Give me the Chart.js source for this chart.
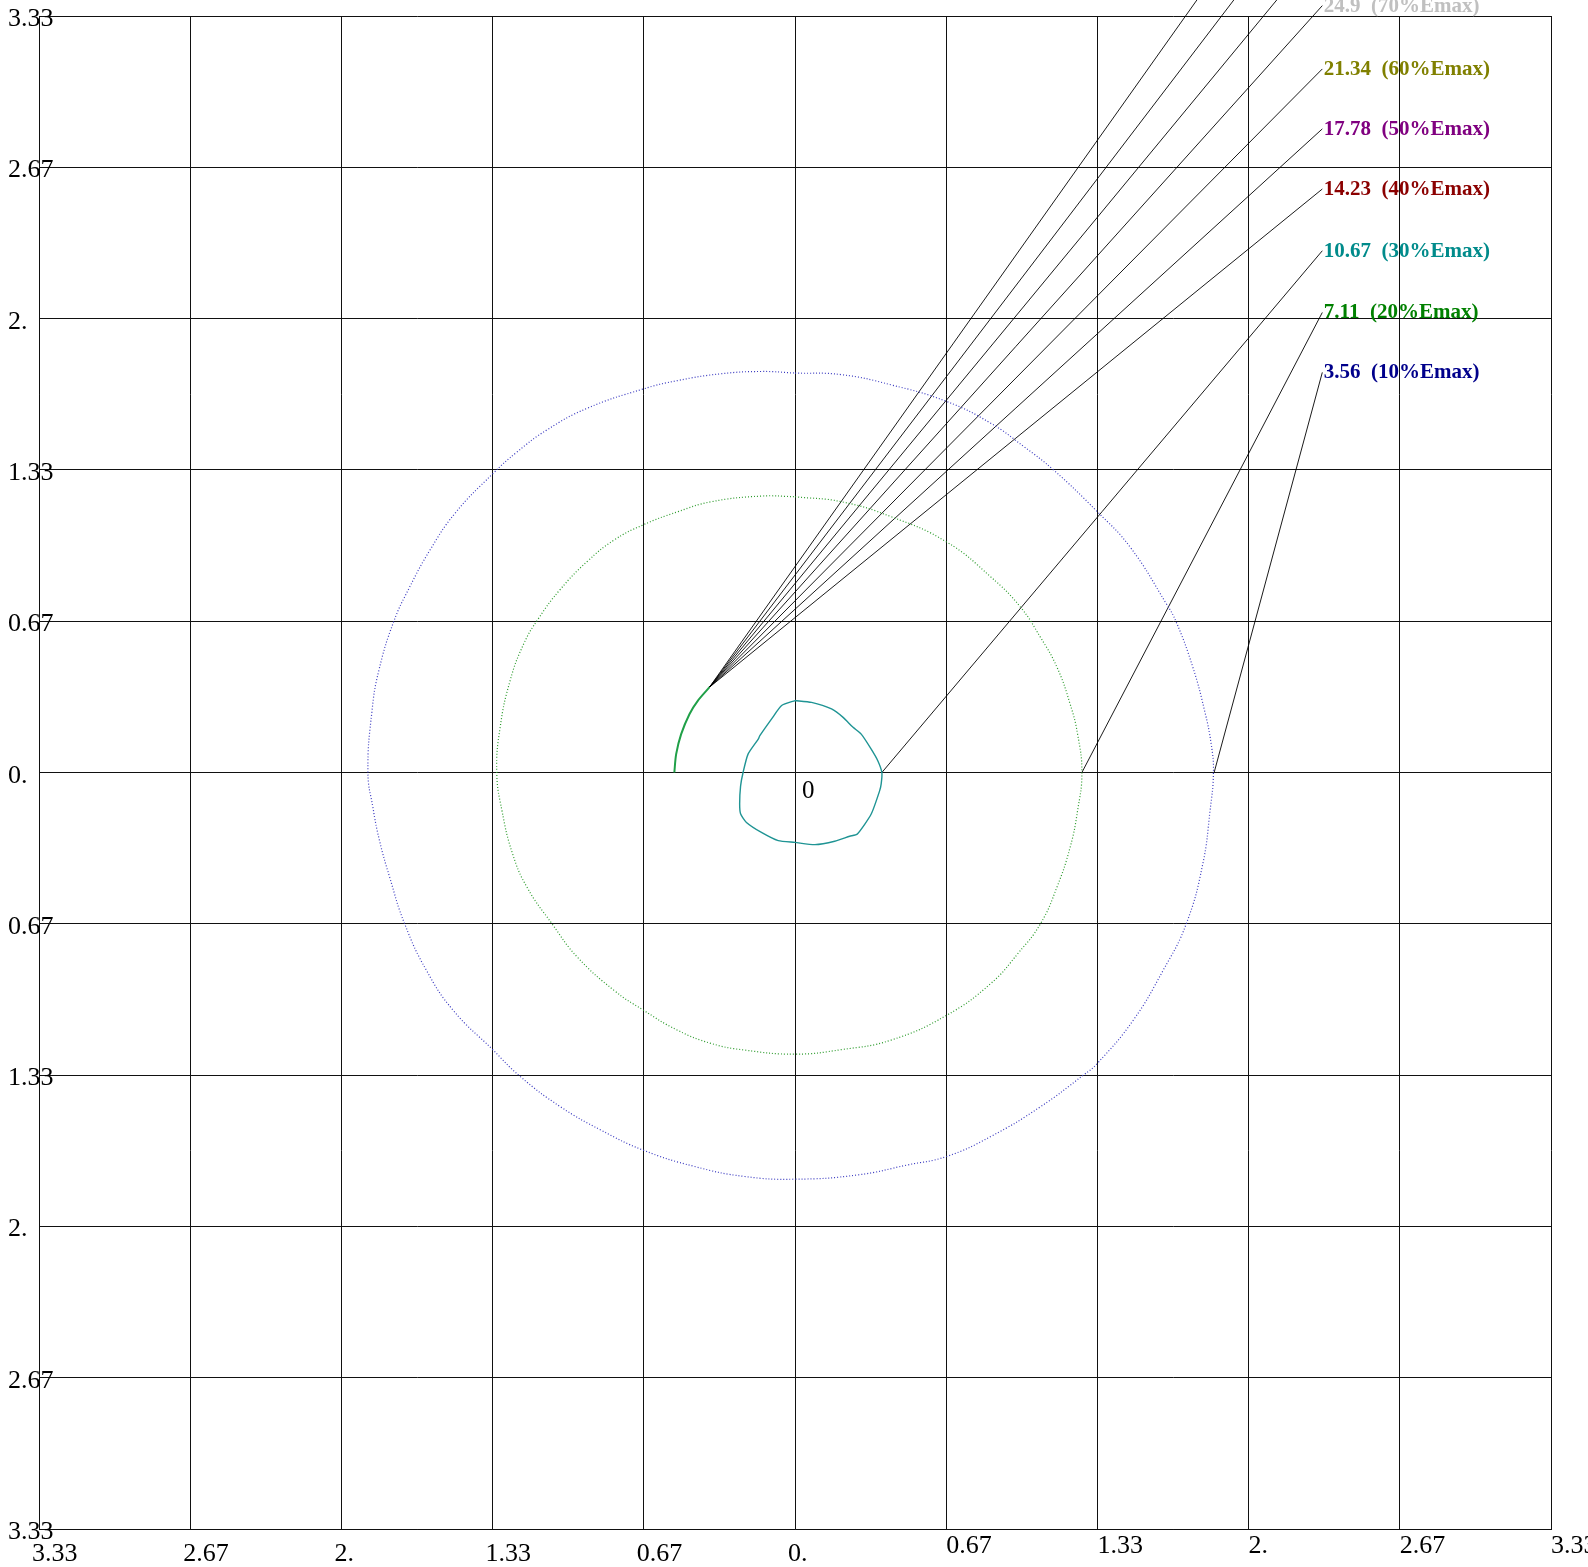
<!DOCTYPE html>
<html>
<head>
<meta charset="utf-8">
<title>Isolines</title>
<script src="https://cdn.jsdelivr.net/npm/chart.js@4/dist/chart.umd.min.js"></script>
<style>
  html, body { margin: 0; padding: 0; background: #fff; }
  #wrap { width: 1588px; height: 1567px; position: relative; }
</style>
</head>
<body>
<div id="wrap"><canvas id="isoChart"></canvas></div>
<script>
// axis ticks (both axes symmetric, labels show absolute values)
const TICK_VALUES = [-3.3333, -2.6667, -2, -1.3333, -0.6667, 0, 0.6667, 1.3333, 2, 2.6667, 3.3333];
const TICK_LABELS = ['3.33', '2.67', '2.', '1.33', '0.67', '0.', '0.67', '1.33', '2.', '2.67', '3.33'];

// 10% Emax isoline (dotted blue)
const ISO_10 = [[0,1.760],[0.205,1.753],[0.424,1.708],[0.668,1.635],[0.863,1.539],[1.009,1.436],[1.140,1.333],[1.333,1.149],[1.477,0.994],[1.637,0.744],[1.681,0.663],[1.754,0.464],[1.806,0.272],[1.835,0.125],[1.845,0],
  [1.830,-0.168],[1.798,-0.403],[1.725,-0.667],[1.623,-0.872],[1.491,-1.092],[1.333,-1.282],[1.272,-1.333],[1.082,-1.473],[0.863,-1.604],[0.668,-1.692],[0.497,-1.729],[0.278,-1.773],[0,-1.792],
  [-0.222,-1.780],[-0.443,-1.736],[-0.672,-1.663],[-0.857,-1.575],[-1.034,-1.473],[-1.211,-1.340],[-1.334,-1.220],[-1.507,-1.048],[-1.625,-0.872],[-1.721,-0.667],[-1.787,-0.462],[-1.832,-0.300],[-1.861,-0.154],[-1.883,0],
  [-1.865,0.272],[-1.835,0.449],[-1.770,0.663],[-1.699,0.817],[-1.610,0.979],[-1.500,1.141],[-1.334,1.315],[-1.226,1.412],[-1.093,1.510],[-0.916,1.605],[-0.672,1.689],[-0.517,1.727],[-0.325,1.757],[-0.148,1.767],[0,1.760]];

// 20% Emax isoline (dotted green)
const ISO_20 = [[0,1.215],[0.205,1.193],[0.424,1.127],[0.668,1.016],[0.863,0.862],[0.994,0.729],[1.082,0.596],[1.155,0.464],[1.213,0.302],[1.246,0.169],[1.265,0],
  [1.246,-0.168],[1.213,-0.330],[1.155,-0.505],[1.082,-0.667],[0.985,-0.795],[0.863,-0.930],[0.668,-1.070],[0.424,-1.179],[0.205,-1.221],[0,-1.241],
  [-0.222,-1.223],[-0.369,-1.194],[-0.517,-1.136],[-0.672,-1.045],[-0.798,-0.960],[-0.960,-0.813],[-1.071,-0.667],[-1.182,-0.505],[-1.245,-0.359],[-1.292,-0.168],[-1.315,0],
  [-1.300,0.199],[-1.256,0.405],[-1.196,0.567],[-1.130,0.680],[-1.034,0.808],[-0.916,0.930],[-0.798,1.024],[-0.672,1.090],[-0.517,1.149],[-0.369,1.193],[-0.148,1.218],[0,1.215]];

// 30% Emax isoline (solid teal, closed)
const ISO_30 = [[0,0.317],[0.073,0.309],[0.161,0.280],[0.212,0.243],[0.256,0.199],[0.292,0.169],[0.336,0.103],[0.365,0.052],[0.383,0],[0.380,-0.05],[0.373,-0.081],[0.336,-0.183],[0.275,-0.271],[0.241,-0.281],[0.175,-0.303],[0.088,-0.318],[0,-0.308],
  [-0.074,-0.300],[-0.148,-0.264],[-0.214,-0.220],[-0.240,-0.182],[-0.244,-0.139],[-0.240,-0.06],[-0.229,0],[-0.207,0.081],[-0.162,0.147],[-0.155,0.162],[-0.103,0.236],[-0.059,0.295],[0,0.317]];

// 40%+ Emax arc (solid green)
const ISO_40 = [[-0.532,0],[-0.524,0.081],[-0.502,0.169],[-0.465,0.258],[-0.428,0.317],[-0.377,0.376]];

// isoline labels
const LEVEL_VALUES = ['3.56', '7.11', '10.67', '14.23', '17.78', '21.34', '24.9', '28.45', '32.01', '35.56'];
const LEVEL_PCTS = [10, 20, 30, 40, 50, 60, 70, 80, 90, 100];
const LEVEL_COLORS = ['#00008b', '#008000', '#008b8b', '#8b0000', '#800080', '#808000', '#c0c0c0', '#606060', '#404040', '#202020'];
// leader line start (on the isoline) and label anchor
const LEADER_START = [[1.848,0],[1.265,0],[0.383,0],[-0.377,0.376],[-0.377,0.376],[-0.377,0.376],[-0.377,0.376],[-0.377,0.376],[-0.377,0.376],[-0.377,0.376]];
const LABEL_X = 2.325;
const LABEL_Y = [1.763, 2.027, 2.299, 2.571, 2.836, 3.100, 3.379, 3.647, 3.915, 4.183];

function toPoints(arr) {
    return arr.map(p => ({ x: p[0], y: p[1] }));
}

function setTicks(scale) {
    scale.ticks = TICK_VALUES.map(v => ({ value: v }));
}

const datasets = [
    { data: toPoints(ISO_10), borderColor: '#3a3ac0', borderWidth: 1.2, borderDash: [1, 2], tension: 0.45 },
    { data: toPoints(ISO_20), borderColor: '#2a9a2a', borderWidth: 1.2, borderDash: [1, 2], tension: 0.45 },
    { data: toPoints(ISO_30), borderColor: '#1f9494', borderWidth: 1.4, tension: 0.2 },
    { data: toPoints(ISO_40), borderColor: '#20a048', borderWidth: 2, tension: 0.3 }
];

// leader lines
LEADER_START.forEach((s, i) => {
    datasets.push({
        data: [{ x: s[0], y: s[1] }, { x: LABEL_X, y: LABEL_Y[i] }],
        borderColor: '#000',
        borderWidth: 0.9,
        clip: false
    });
});

const labelPlugin = {
    id: 'isoLabels',
    afterDraw(chart) {
        const ctx = chart.ctx;
        const xs = chart.scales.x;
        const ys = chart.scales.y;
        const area = chart.chartArea;
        ctx.save();
        ctx.fillStyle = '#000';
        ctx.font = '26px "Liberation Serif"';
        ctx.textAlign = 'left';
        ctx.textBaseline = 'alphabetic';
        TICK_VALUES.forEach((v, i) => {
            // x labels: negative side sits lower and shifted left
            const px = xs.getPixelForValue(v);
            if (v <= 0) {
                ctx.fillText(TICK_LABELS[i], px - 7, area.bottom + 32);
            } else {
                ctx.fillText(TICK_LABELS[i], px, area.bottom + 24);
            }
            // y labels
            const py = ys.getPixelForValue(v);
            ctx.fillText(TICK_LABELS[i], 8, py + 10);
        });
        // origin label
        ctx.font = '25px "Liberation Serif"';
        ctx.fillText('0', xs.getPixelForValue(0) + 7, ys.getPixelForValue(0) + 25);

        // level labels
        ctx.font = 'bold 21px "Liberation Serif"';
        LEVEL_VALUES.forEach((val, i) => {
            ctx.fillStyle = LEVEL_COLORS[i];
            const lx = xs.getPixelForValue(LABEL_X) + 1.5;
            const ly = ys.getPixelForValue(LABEL_Y[i]) + 6;
            ctx.fillText(val + '  (' + LEVEL_PCTS[i] + '%Emax)', lx, ly);
        });
        ctx.restore();
    }
};

const ctx = document.getElementById('isoChart').getContext('2d');
const isoChart = new Chart(ctx, {
    type: 'scatter',
    data: { datasets: datasets },
    options: {
        responsive: true,
        maintainAspectRatio: false,
        animation: false,
        layout: { padding: { left: 39, right: 37, top: 16, bottom: 38 } },
        elements: {
            point: { radius: 0, hoverRadius: 0 },
            line: { fill: false }
        },
        datasets: { scatter: { showLine: true } },
        scales: {
            x: {
                type: 'linear',
                min: -3.3333,
                max: 3.3333,
                afterBuildTicks: setTicks,
                ticks: { display: false },
                grid: { color: '#111', lineWidth: 1, drawTicks: false },
                border: { color: '#111' }
            },
            y: {
                type: 'linear',
                min: -3.3333,
                max: 3.3333,
                afterBuildTicks: setTicks,
                ticks: { display: false },
                grid: { color: '#111', lineWidth: 1, drawTicks: false },
                border: { color: '#111' }
            }
        },
        plugins: {
            legend: { display: false },
            tooltip: { enabled: false }
        }
    },
    plugins: [labelPlugin]
});
</script>
</body>
</html>
